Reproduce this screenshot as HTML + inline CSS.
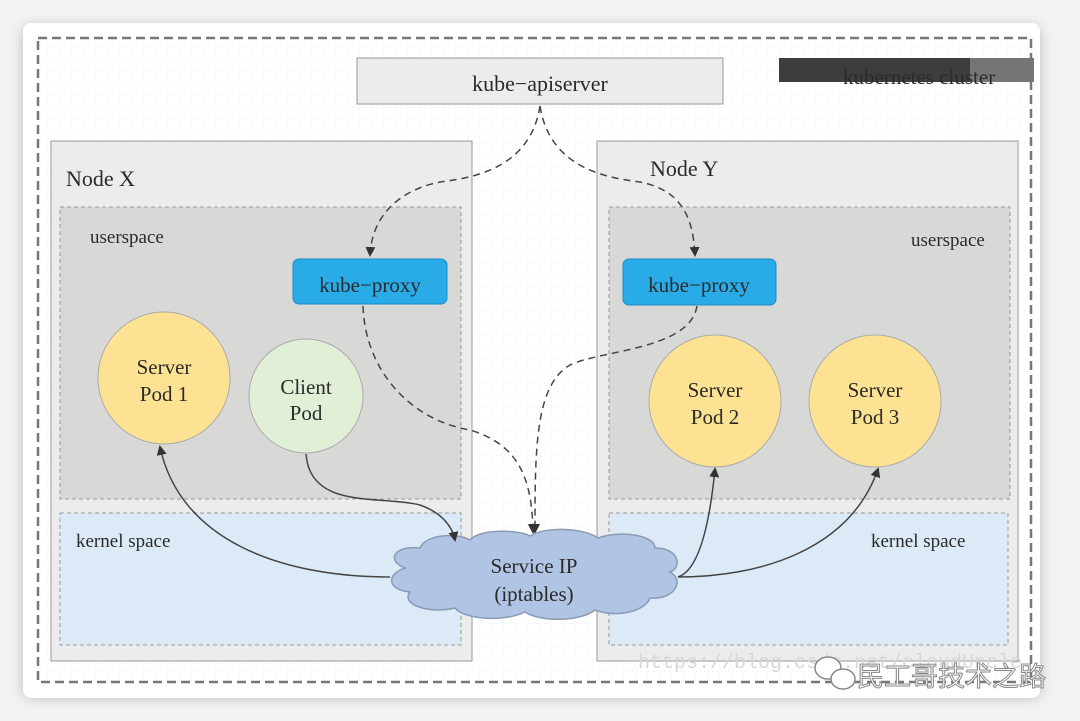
<!DOCTYPE html>
<html><head><meta charset="utf-8"><style>
html,body{margin:0;padding:0;background:#f2f2f2;width:1080px;height:721px;overflow:hidden}
svg{display:block}
text{font-family:"Liberation Serif","Noto Serif CJK SC",serif;fill:#2a2a2a}
</style></head><body>
<svg width="1080" height="721" viewBox="0 0 1080 721" xmlns="http://www.w3.org/2000/svg">
<defs>
<filter id="sh" x="-5%" y="-5%" width="110%" height="110%"><feGaussianBlur stdDeviation="6"/></filter>
<pattern id="grid" width="12" height="12" patternUnits="userSpaceOnUse"><path d="M12 0V12M0 12H12" stroke="#e6ebf0" stroke-width="1" stroke-dasharray="2 2" fill="none"/></pattern>
<marker id="ar" markerWidth="10" markerHeight="10" refX="8" refY="5" orient="auto" markerUnits="userSpaceOnUse"><path d="M0 0L10 5L0 10Z" fill="#333"/></marker>
</defs>
<rect x="23" y="26" width="1017" height="672" rx="8" fill="#bbb" filter="url(#sh)"/>
<rect x="23" y="23" width="1017" height="675" rx="8" fill="#fff"/>
<rect x="37" y="37" width="995" height="646" fill="url(#grid)"/>
<rect x="38" y="38" width="993" height="644" fill="none" stroke="#777" stroke-width="2.5" stroke-dasharray="9 5"/>
<rect x="357" y="58" width="366" height="46" fill="#ececec" stroke="#999"/>
<text x="540" y="91" font-size="22" text-anchor="middle">kube−apiserver</text>
<rect x="779" y="58" width="191" height="24" fill="#3d3d3b"/>
<rect x="970" y="58" width="64" height="24" fill="#757575"/>
<text x="843" y="84" font-size="21">kubernetes cluster</text>
<rect x="51" y="141" width="421" height="520" fill="#ececec" stroke="#999"/>
<rect x="597" y="141" width="421" height="520" fill="#ececec" stroke="#999"/>
<rect x="60" y="207" width="401" height="292" fill="#d8d9d7" stroke="#999" stroke-dasharray="4 3"/>
<rect x="609" y="207" width="401" height="292" fill="#d8d9d7" stroke="#999" stroke-dasharray="4 3"/>
<rect x="60" y="513" width="401" height="132" fill="#dce9f6" stroke="#999" stroke-dasharray="4 3"/>
<rect x="609" y="513" width="399" height="132" fill="#dce9f6" stroke="#999" stroke-dasharray="4 3"/>
<text x="66" y="186" font-size="22">Node X</text>
<text x="650" y="176" font-size="22">Node Y</text>
<text x="90" y="243" font-size="19">userspace</text>
<text x="911" y="246" font-size="19">userspace</text>
<text x="76" y="547" font-size="19">kernel space</text>
<text x="871" y="547" font-size="19">kernel space</text>
<rect x="293" y="259" width="154" height="45" rx="6" fill="#29abe8" stroke="#1a8cc4"/>
<text x="370" y="292" font-size="21" text-anchor="middle">kube−proxy</text>
<rect x="623" y="259" width="153" height="46" rx="6" fill="#29abe8" stroke="#1a8cc4"/>
<text x="699" y="292" font-size="21" text-anchor="middle">kube−proxy</text>
<circle cx="164" cy="378" r="66" fill="#fde293" stroke="#aaa"/>
<text x="164" y="374" font-size="21" text-anchor="middle">Server</text>
<text x="164" y="401" font-size="21" text-anchor="middle">Pod 1</text>
<circle cx="306" cy="396" r="57" fill="#e0efd6" stroke="#aaa"/>
<text x="306" y="394" font-size="21" text-anchor="middle">Client</text>
<text x="306" y="420" font-size="21" text-anchor="middle">Pod</text>
<circle cx="715" cy="401" r="66" fill="#fde293" stroke="#aaa"/>
<text x="715" y="397" font-size="21" text-anchor="middle">Server</text>
<text x="715" y="424" font-size="21" text-anchor="middle">Pod 2</text>
<circle cx="875" cy="401" r="66" fill="#fde293" stroke="#aaa"/>
<text x="875" y="397" font-size="21" text-anchor="middle">Server</text>
<text x="875" y="424" font-size="21" text-anchor="middle">Pod 3</text>
<g fill="none" stroke="#444" stroke-width="1.5" stroke-dasharray="7 5">
<path d="M540 106 C530 170 470 178 440 182 C400 190 372 215 370 255" marker-end="url(#ar)"/>
<path d="M540 106 C550 170 610 178 640 182 C680 190 693 215 695 255" marker-end="url(#ar)"/>
<path d="M363 306 C365 370 410 420 470 430 C520 445 532 480 533 532" marker-end="url(#ar)"/>
<path d="M697 306 C690 350 600 350 570 365 C535 385 535 450 535 532" marker-end="url(#ar)"/>
</g>
<path d="M405 568 C385 560 395 545 420 548 C425 535 455 532 470 540 C480 528 520 530 530 536 C545 526 585 528 598 538 C620 530 655 535 655 548 C680 548 682 568 670 572 C685 580 675 600 650 598 C645 612 615 618 595 610 C580 622 540 622 525 612 C505 622 465 620 455 608 C430 614 400 605 410 592 C388 590 385 575 405 568 Z" fill="#b0c4e4" stroke="#8a9ab3" stroke-width="1.5"/>
<text x="534" y="573" font-size="21" text-anchor="middle">Service IP</text>
<text x="534" y="601" font-size="21" text-anchor="middle">(iptables)</text>
<g fill="none" stroke="#444" stroke-width="1.5">
<path d="M306 454 C310 510 380 495 420 505 C440 512 452 525 455 540" marker-end="url(#ar)"/>
<path d="M390 577 C280 577 180 540 160 447" marker-end="url(#ar)"/>
<path d="M678 577 C700 570 710 520 715 469" marker-end="url(#ar)"/>
<path d="M678 577 C760 577 850 550 878 469" marker-end="url(#ar)"/>
</g>
<text x="638" y="668" font-size="20" style="fill:#d8d8d8;font-family:'Liberation Mono',monospace">https://blog.csdn.net/cloudUncle</text>
<g fill="#fff" stroke="#888" stroke-width="1.5"><ellipse cx="828" cy="668" rx="13" ry="11"/><ellipse cx="843" cy="679" rx="12" ry="10"/></g>
<text x="857" y="686" font-size="27" style="fill:#fff;stroke:#888;stroke-width:1;font-family:'Liberation Sans','Noto Sans CJK SC',sans-serif">民工哥技术之路</text>
</svg>
</body></html>
